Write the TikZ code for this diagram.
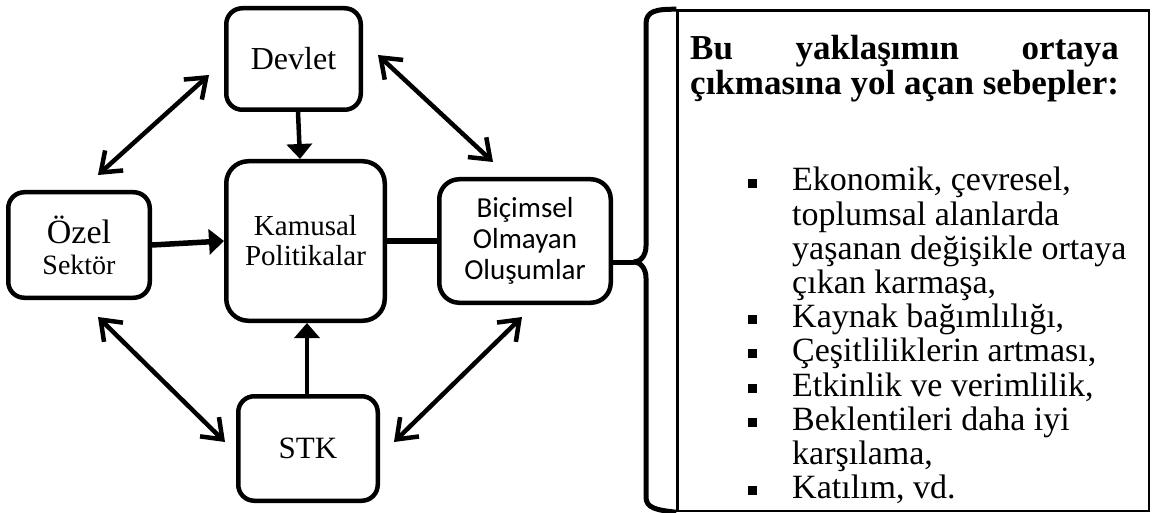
\documentclass[tikz,border=0pt]{standalone}
\usepackage{fontspec}
\setmainfont{Liberation Serif}
\newfontfamily\carlito{Carlito}
\usetikzlibrary{arrows.meta}
\newlength\headw
\newcommand\headfont{\bfseries\fontsize{35}{38}\selectfont}
\newcommand\bodyfont{\fontsize{34}{36}\selectfont}
\newcommand\bul{\makebox[0pt][r]{\raisebox{3pt}{\rule{9pt}{9pt}}\hspace{35pt}}}
\begin{document}
\begin{tikzpicture}[x=1pt,y=-1pt,
  box/.style={draw, line width=4.5pt, rounded corners=16pt, align=center, inner sep=0pt},
  link/.style={line width=4.5pt, line join=miter,
    {Straight Barb[length=18pt,width=27pt]}-{Straight Barb[length=18pt,width=27pt]}},
  feed/.style={line width=4.5pt, -{Triangle[length=15pt,width=25pt]}},
  txt/.style={anchor=base west, inner sep=0pt},
]
\useasboundingbox (0,0) rectangle (1153,513);

% actors
\node[box, minimum width=134.5pt, minimum height=101.5pt,
      font=\fontsize{32}{36}\selectfont] (devlet) at (293.5,59) {Devlet};
\node[box, minimum width=141.5pt, minimum height=105.5pt,
      font=\fontsize{28}{31}\selectfont] (ozel) at (79,245)
  {{\fontsize{34}{31}\selectfont Özel}\\Sektör};
\node[box, minimum width=158.5pt, minimum height=159.5pt, rounded corners=22pt,
      font=\fontsize{29}{30}\selectfont] (kamu) at (305.5,241) {Kamusal\\Politikalar};
\node[box, minimum width=171.5pt, minimum height=123.5pt, rounded corners=20pt,
      font=\carlito\fontsize{29}{31}\selectfont] (bic) at (525,241) {Biçimsel\\Olmayan\\Oluşumlar};
\node[box, minimum width=139.5pt, minimum height=104.5pt,
      font=\fontsize{31}{34}\selectfont] (stk) at (308,448.5) {STK};

% flows into public policy
\draw[feed] ([xshift=4.5pt]devlet.south) -- ([xshift=-5.5pt]kamu.north);
\draw[feed] (stk.north -| 307,0) -- (kamu.south -| 307,0);
\draw[feed, line width=5.5pt] (ozel.east) -- (kamu.west);
\draw[line width=6.5pt] (kamu.east) -- (bic.west);

% mutual relations
\coordinate (a1) at (209,75);  \coordinate (a2) at (98,175);
\coordinate (b1) at (378,55);  \coordinate (b2) at (493,162);
\coordinate (c1) at (98,317);  \coordinate (c2) at (225,442);
\coordinate (d1) at (522,317); \coordinate (d2) at (394,442);
\draw[link] (a1) -- (a2);
\draw[link] (b1) -- (b2);
\draw[link] (c1) -- (c2);
\draw[link] (d1) -- (d2);

% reasons panel with brace
\node[draw, line width=2.5pt, inner sep=0pt, anchor=north west,
      minimum width=471.5pt, minimum height=500.5pt] (info) at (676.25,9.25) {};
\coordinate (cusp) at (634,262);
\draw[line width=5pt, line join=round]
  (info.north west) .. controls (656,9) and (646,11) .. (646,24)
  -- (646,246) .. controls (646,256) and (640,262) .. (cusp)
  .. controls (640,262) and (646,268) .. (646,278)
  -- (646,497) .. controls (646,508) and (656,510) .. (info.south west);
\draw[line width=5pt] (bic.east |- cusp) -- (cusp);

\node[txt, font=\headfont] (h1) at (690,60)
  {\settowidth{\headw}{çıkmasına yol açan sebepler:}%
   \makebox[\headw][s]{Bu\hfill yaklaşımın\hfill ortaya}};
\node[txt, font=\headfont] (h2) at (690,95) {çıkmasına yol açan sebepler:};

\foreach \n/\yy/\b/\t in {
  1/191/1/{Ekonomik, çevresel,},
  2/225/0/{toplumsal alanlarda},
  3/259/0/{yaşanan değişikle ortaya},
  4/293/0/{çıkan karmaşa,},
  5/327/1/{Kaynak bağımlılığı,},
  6/361/1/{Çeşitliliklerin artması,},
  7/396/1/{Etkinlik ve verimlilik,},
  8/430/1/{Beklentileri daha iyi},
  9/464/0/{karşılama,},
  10/498/1/{Katılım, vd.}}
  \node[txt, font=\bodyfont] (r\n) at (792,\yy) {\ifnum\b=1 \bul\fi\t};
\end{tikzpicture}
\end{document}
